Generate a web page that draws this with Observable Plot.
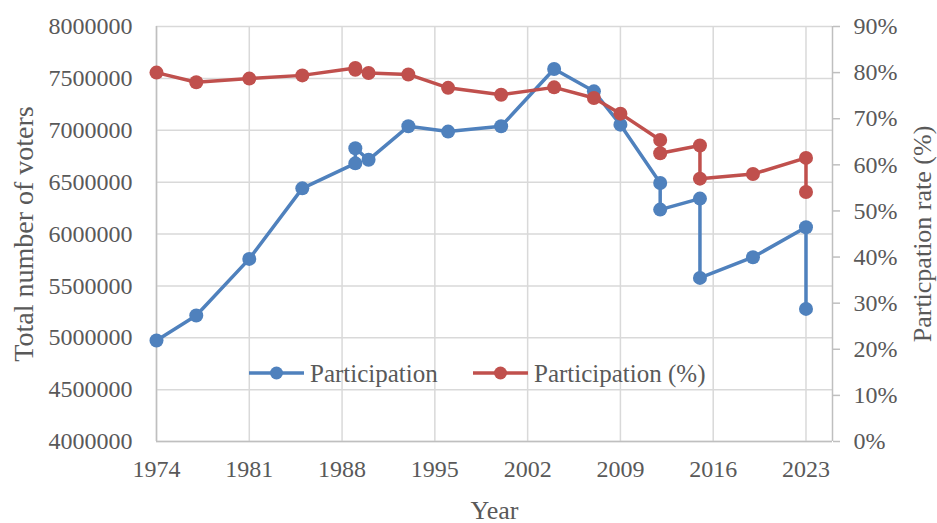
<!DOCTYPE html>
<html>
<head>
<meta charset="utf-8">
<script src="https://cdn.jsdelivr.net/npm/d3@7"></script>
<script src="https://cdn.jsdelivr.net/npm/@observablehq/plot@0.6"></script>
<style>
  html, body { margin: 0; padding: 0; background: #fff; }
  #chart { width: 937px; height: 523px; }
</style>
</head>
<body>
<div id="chart"></div>
<script>
// ---- data ----
const years  = [1974, 1977, 1981, 1985, 1989, 1989, 1990, 1993, 1996, 2000, 2004, 2007, 2009, 2012, 2012, 2015, 2015, 2019, 2023, 2023];
const voters = [4973000, 5214000, 5760000, 6440000, 6681000, 6826000, 6715000, 7038000, 6987000, 7038000, 7590000, 7375000, 7054000, 6492000, 6235000, 6341000, 5577000, 5776000, 6065000, 5278000];
const rates  = [80.0, 77.9, 78.7, 79.4, 81.0, 80.6, 79.9, 79.6, 76.7, 75.2, 76.8, 74.5, 71.1, 65.4, 62.5, 64.2, 57.0, 58.0, 61.5, 54.1];

const xTicks     = [1974, 1981, 1988, 1995, 2002, 2009, 2016, 2023];
const leftTicks  = [4000000, 4500000, 5000000, 5500000, 6000000, 6500000, 7000000, 7500000, 8000000];
const rightTicks = [0, 10, 20, 30, 40, 50, 60, 70, 80, 90];

const seriesNames = ["Participation", "Participation (%)"];
const colors = ["#4F81BD", "#C0504D"];

// ---- helpers: the percentage axis (0–90%) shares the plot height with 4M–8M ----
const yMin = 4000000, yMax = 8000000, rMax = 90;
const rateToY = r => yMin + (r / rMax) * (yMax - yMin);

const countRows = years.map((y, i) => ({year: y, value: voters[i]}));
const rateRows  = years.map((y, i) => ({year: y, value: rateToY(rates[i])}));

const FONT = "'Liberation Serif', 'Times New Roman', serif";
const TXT = "#595959";
const GRID = "#d9d9d9";
const AXIS = "#bfbfbf";

const chart = Plot.plot({
  width: 937,
  height: 523,
  marginLeft: 156,
  marginRight: 105,
  marginTop: 26,
  marginBottom: 82,
  style: {fontFamily: FONT, fontSize: "24px", color: TXT, background: "#fff", overflow: "visible"},
  x: {domain: [1974, 2025], axis: null},
  y: {domain: [yMin, yMax], axis: null},
  marks: [
    Plot.gridY(leftTicks, {stroke: GRID, strokeOpacity: 1, strokeWidth: 1.5}),
    Plot.gridX(xTicks, {stroke: GRID, strokeOpacity: 1, strokeWidth: 1.5}),
    Plot.ruleX([1974], {stroke: AXIS, strokeWidth: 1.5}),
    Plot.ruleX([2025], {stroke: AXIS, strokeWidth: 1.5}),
    Plot.ruleY([yMin], {stroke: AXIS, strokeWidth: 1.5}),
    Plot.axisY({anchor: "left", ticks: leftTicks, tickSize: 0, tickPadding: 24,
      tickFormat: d => String(d), fontSize: 24, fontFamily: FONT, fill: TXT, label: null}),
    Plot.axisY({anchor: "right", ticks: rightTicks.map(rateToY), tickSize: 7, tickPadding: 14,
      stroke: AXIS, strokeWidth: 1.5,
      tickFormat: d => Math.round((d - yMin) / (yMax - yMin) * rMax) + "%", fontSize: 24, fontFamily: FONT, fill: TXT, label: null}),
    Plot.axisX({anchor: "bottom", ticks: xTicks, tickSize: 0, tickPadding: 18,
      tickFormat: d => String(d), fontSize: 24, fontFamily: FONT, fill: TXT, label: null}),
    Plot.text(["Total number of voters"], {text: d => d, frameAnchor: "left", dx: -132, rotate: -90,
      textAnchor: "middle", lineAnchor: "middle", fontSize: 28, fontFamily: FONT, fill: TXT}),
    Plot.text(["Particpation rate (%)"], {text: d => d, frameAnchor: "right", dx: 90, rotate: -90,
      textAnchor: "middle", lineAnchor: "middle", fontSize: 26, fontFamily: FONT, fill: TXT}),
    Plot.text(["Year"], {text: d => d, frameAnchor: "bottom", dy: 69,
      textAnchor: "middle", lineAnchor: "middle", fontSize: 26, fontFamily: FONT, fill: TXT}),
    Plot.line(countRows, {x: "year", y: "value", stroke: colors[0], strokeWidth: 3.5}),
    Plot.dot(countRows, {x: "year", y: "value", r: 7, fill: colors[0]}),
    Plot.line(rateRows, {x: "year", y: "value", stroke: colors[1], strokeWidth: 3.5}),
    Plot.dot(rateRows, {x: "year", y: "value", r: 7, fill: colors[1]})
  ]
});

document.getElementById("chart").appendChild(chart);

// ---- legend inside the plot area ----
const svg = d3.select(chart);
const legend = svg.append("g")
  .attr("font-family", FONT).attr("font-size", 25).attr("fill", TXT).attr("text-anchor", "start");
const legendItems = [
  {name: seriesNames[0], color: colors[0], x0: 249},
  {name: seriesNames[1], color: colors[1], x0: 473}
];
const ly = 373;
legendItems.forEach(it => {
  legend.append("line").attr("x1", it.x0).attr("x2", it.x0 + 55).attr("y1", ly).attr("y2", ly)
    .attr("stroke", it.color).attr("stroke-width", 3.5);
  legend.append("circle").attr("cx", it.x0 + 27.5).attr("cy", ly).attr("r", 6.5).attr("fill", it.color);
  legend.append("text").attr("x", it.x0 + 61).attr("y", ly).attr("dy", "0.35em")
    .attr("text-anchor", "start").attr("fill", TXT).style("font-family", FONT).text(it.name);
});
</script>
</body>
</html>
